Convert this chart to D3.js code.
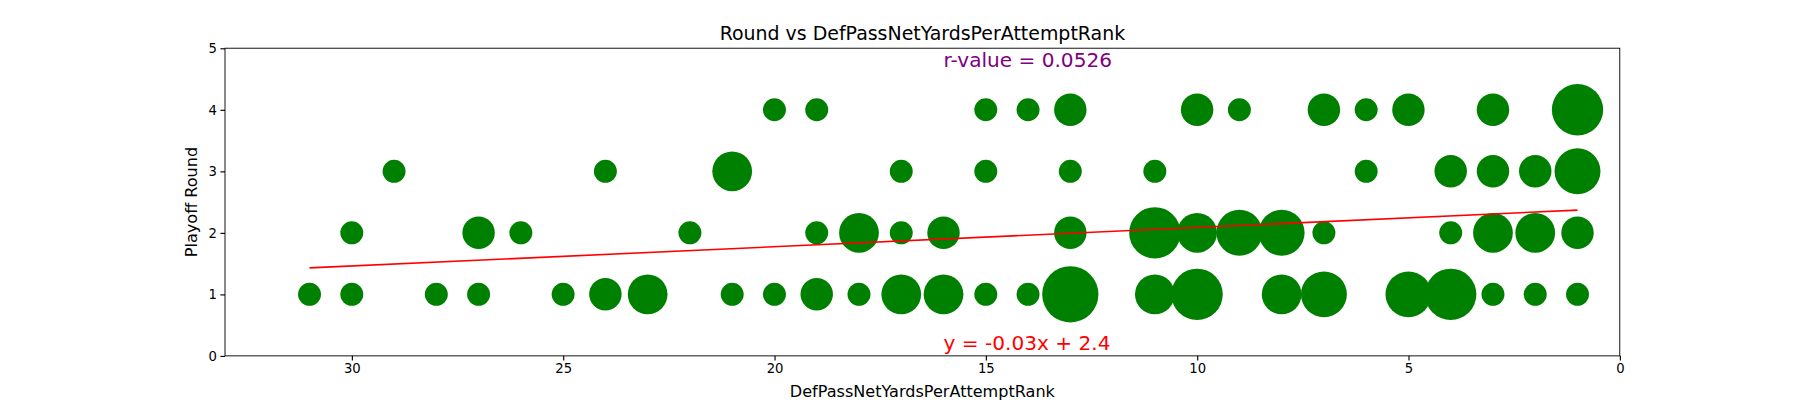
<!DOCTYPE html>
<html><head><meta charset="utf-8">
<script src="https://cdn.jsdelivr.net/npm/d3@7"></script>
<style>body{margin:0;background:#fff;overflow:hidden}text{font-family:"DejaVu Sans",sans-serif}</style>
</head><body><svg id="c" width="1800" height="400"></svg>
<script>
// [rank, round, count]
const points = [
  [20,4,1],[19,4,1],[15,4,1],[14,4,1],[13,4,2],[10,4,2],[9,4,1],[7,4,2],[6,4,1],[5,4,2],[3,4,2],[1,4,5],
  [29,3,1],[24,3,1],[21,3,3],[17,3,1],[15,3,1],[13,3,1],[11,3,1],[6,3,1],[4,3,2],[3,3,2],[2,3,2],[1,3,4],
  [30,2,1],[27,2,2],[26,2,1],[22,2,1],[19,2,1],[18,2,3],[17,2,1],[16,2,2],[13,2,2],[11,2,5],[10,2,3],[9,2,4],[8,2,4],[7,2,1],[4,2,1],[3,2,3],[2,2,3],[1,2,2],
  [31,1,1],[30,1,1],[28,1,1],[27,1,1],[25,1,1],[24,1,2],[23,1,3],[21,1,1],[20,1,1],[19,1,2],[18,1,1],[17,1,3],[16,1,3],[15,1,1],[14,1,1],[13,1,6],[11,1,3],[10,1,5],[8,1,3],[7,1,4],[5,1,4],[4,1,5],[3,1,1],[2,1,1],[1,1,1]
];
const xTicks = [30,25,20,15,10,5,0];
const yTicks = [0,1,2,3,4,5];
const slope = -0.0313, intercept = 2.40;
const fitRange = [31, 1];

const k = 1800/1568;
const svg = d3.select('#c').append('g').attr('transform',`scale(${k})`);
const L=196,R=1411,T=42,B=310;
const x = d3.scaleLinear().domain([33,0]).range([L,R]);
const y = d3.scaleLinear().domain([0,5]).range([B,T]);

svg.append('g').selectAll('circle').data(points).join('circle')
  .attr('cx',d=>x(d[0])).attr('cy',d=>y(d[1])).attr('r',d=>10*Math.sqrt(d[2])).attr('fill','green');

svg.append('line').attr('x1',x(fitRange[0])).attr('y1',y(slope*fitRange[0]+intercept))
  .attr('x2',x(fitRange[1])).attr('y2',y(slope*fitRange[1]+intercept)).attr('stroke','red').attr('stroke-width',1.4);

const gx = svg.append('g').attr('transform',`translate(0,${B})`).call(d3.axisBottom(x).tickValues(xTicks).tickFormat(d3.format('d')).tickSize(4).tickPadding(3));
const gy = svg.append('g').attr('transform',`translate(${L},0)`).call(d3.axisLeft(y).tickValues(yTicks).tickFormat(d3.format('d')).tickSize(4).tickPadding(3));
[gx,gy].forEach(g=>{g.select('.domain').remove();g.selectAll('text').attr('font-size',11.5).attr('fill','#000').style('font-family','DejaVu Sans');});
svg.append('rect').attr('x',L).attr('y',T).attr('width',R-L).attr('height',B-T).attr('fill','none').attr('stroke','#000').attr('stroke-width',0.8);

svg.append('text').attr('x',(L+R)/2).attr('y',35).attr('text-anchor','middle').attr('font-size',16.5).text('Round vs DefPassNetYardsPerAttemptRank');
svg.append('text').attr('x',(L+R)/2).attr('y',346).attr('text-anchor','middle').attr('font-size',14).text('DefPassNetYardsPerAttemptRank');
svg.append('text').attr('transform',`translate(172,${(T+B)/2}) rotate(-90)`).attr('text-anchor','middle').attr('font-size',14).text('Playoff Round');
svg.append('text').attr('x',822).attr('y',58).attr('font-size',17.5).attr('fill','purple').text('r-value = 0.0526');
svg.append('text').attr('x',822).attr('y',305).attr('font-size',17.5).attr('fill','red').text('y = -0.03x + 2.4');
</script></body></html>
